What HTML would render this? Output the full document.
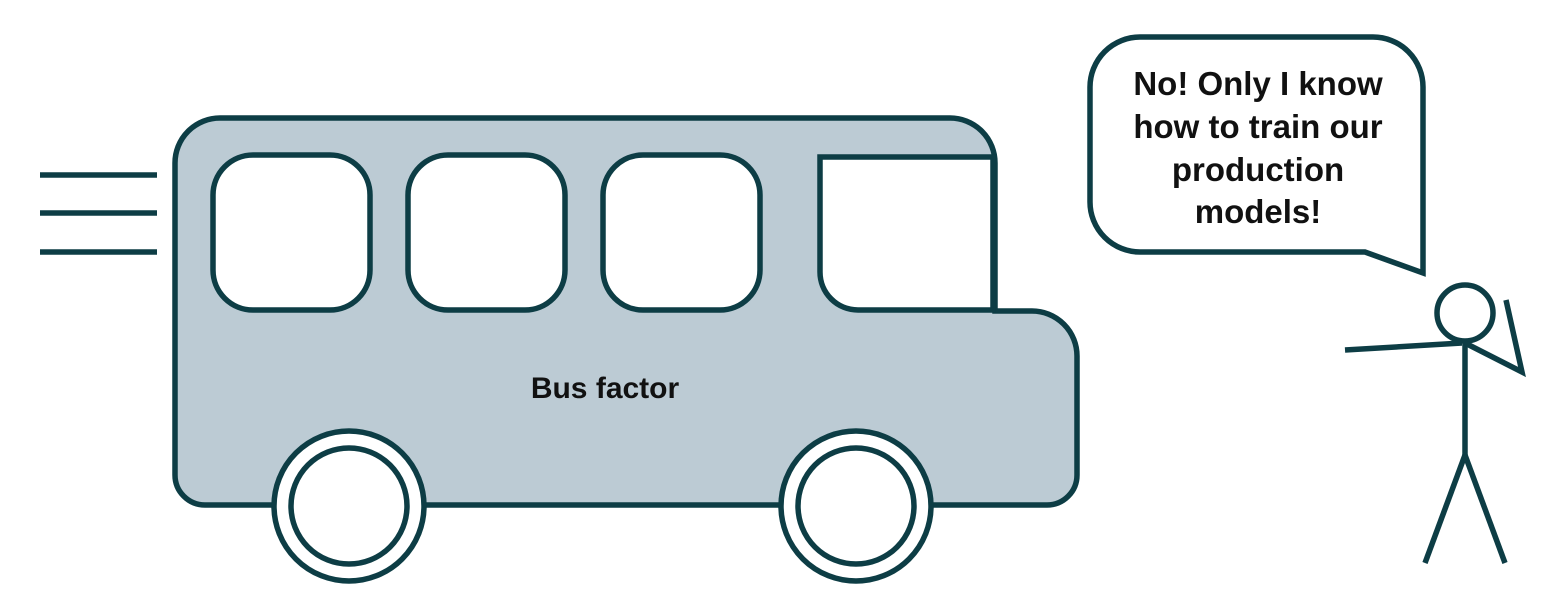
<!DOCTYPE html>
<html><head><meta charset="utf-8"><style>html,body{margin:0;padding:0;background:#fff}svg{display:block}</style></head>
<body>
<svg width="1560" height="604" viewBox="0 0 1560 604" xmlns="http://www.w3.org/2000/svg">
<g stroke="#0d3d45" stroke-width="5.5" fill="none">
<line x1="40" y1="175" x2="157" y2="175"/>
<line x1="40" y1="213" x2="157" y2="213"/>
<line x1="40" y1="252" x2="157" y2="252"/>
<path d="M220 118 H950 A45 45 0 0 1 995 163 V311 H1032 A45 45 0 0 1 1077 356 V475 A30 30 0 0 1 1047 505 H205 A30 30 0 0 1 175 475 V163 A45 45 0 0 1 220 118 Z" fill="#bccbd4"/>
<rect x="213" y="155" width="157" height="155" rx="40" fill="#fff"/>
<rect x="408" y="155" width="157" height="155" rx="40" fill="#fff"/>
<rect x="603" y="155" width="157" height="155" rx="40" fill="#fff"/>
<path d="M820 157 H993 V310 H858 A38 38 0 0 1 820 272 Z" fill="#fff"/>
<circle cx="349" cy="506" r="75" fill="#fff"/>
<circle cx="349" cy="506" r="58" fill="#fff"/>
<circle cx="856" cy="506" r="75" fill="#fff"/>
<circle cx="856" cy="506" r="58" fill="#fff"/>
<path d="M1140 37 H1373 A50 50 0 0 1 1423 87 V273 L1365 252 H1140 A50 50 0 0 1 1090 202 V87 A50 50 0 0 1 1140 37 Z" fill="#fff"/>
<circle cx="1465" cy="313" r="28" fill="#fff"/>
<line x1="1465" y1="341" x2="1465" y2="455"/>
<line x1="1465" y1="455" x2="1425" y2="563"/>
<line x1="1465" y1="455" x2="1505" y2="563"/>
<line x1="1345" y1="350" x2="1462" y2="343"/>
<polyline points="1465,343 1522,372 1506,300"/>
</g>
<g font-family="Liberation Sans, sans-serif" font-weight="bold" fill="#111" text-anchor="middle">
<text x="605" y="398" font-size="30">Bus factor</text>
<text x="1258" y="95" font-size="33">No! Only I know</text>
<text x="1258" y="138" font-size="33">how to train our</text>
<text x="1258" y="181" font-size="33">production</text>
<text x="1258" y="223" font-size="33">models!</text>
</g>
</svg>
</body></html>
